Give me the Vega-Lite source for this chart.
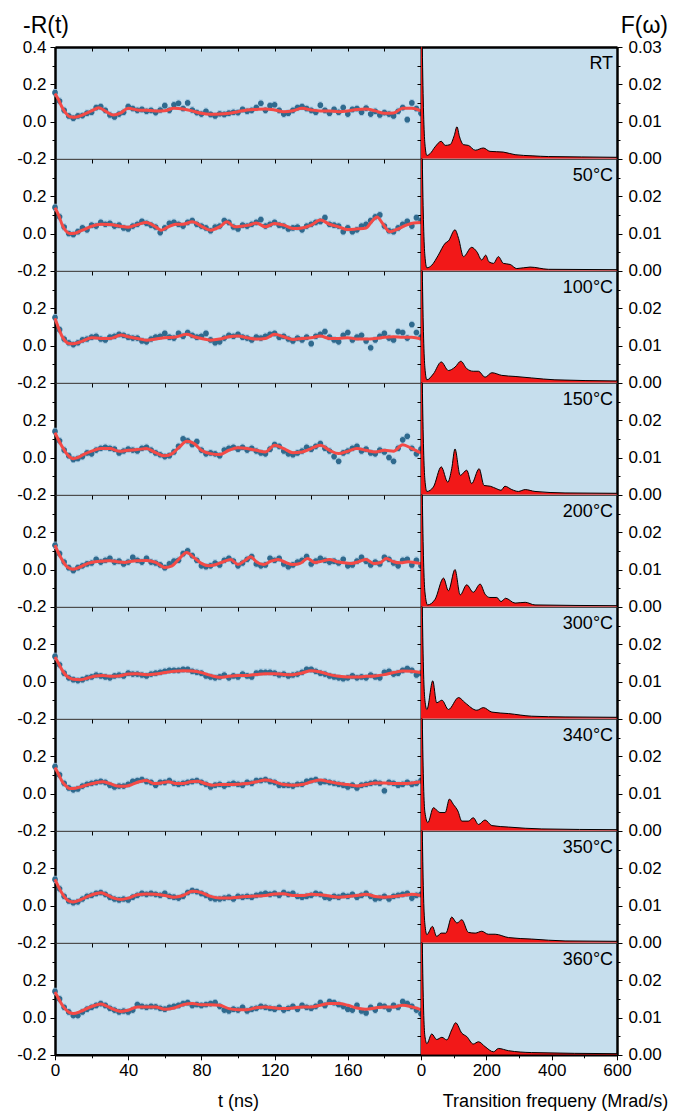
{
"$schema":"https://vega.github.io/schema/vega-lite/v6.json",
"padding":{"left":16,"top":14,"right":10,"bottom":10},
"background":"white",
"bounds":"flush",
"align":"each",
"columns":2,
"spacing":0,
"config":{
"font":"Liberation Sans",
"view":{"stroke":"#4d4d4d","strokeWidth":1,"fill":"#c6deed"},
"axis":{"labelFont":"Liberation Sans","labelFontSize":17,"labelColor":"#000","labelFlush":false,"labelOverlap":false,"titleFont":"Liberation Sans","titleFontSize":18,"titleFontWeight":"normal","titleColor":"#000","domainColor":"#000","tickColor":"#000","tickWidth":1,"grid":false,"labelPadding":4},
"title":{"font":"Liberation Sans","fontSize":23,"fontWeight":"normal","color":"#000"},
"circle":{"size":32,"color":"#2f6a8e","opacity":1},
"point":{"shape":"M0,-1L0,1M-0.6,-1L0.6,-1M-0.6,1L0.6,1","size":40,"filled":false,"color":"#9cc0da","strokeWidth":1,"opacity":1},
"area":{"color":"#f21818","interpolate":"monotone","opacity":1},
"text":{"align":"right","baseline":"middle","fontSize":18,"font":"Liberation Sans","color":"#000"}
},
"datasets":{
"p0":[{"t":0,"v":0.155},{"t":2.5,"v":0.11},{"t":5,"v":0.06},{"t":7.5,"v":0.03},{"t":10,"v":0.018},{"t":12.5,"v":0.03},{"t":15,"v":0.032},{"t":17.5,"v":0.045},{"t":20,"v":0.05},{"t":22.5,"v":0.075},{"t":25,"v":0.08},{"t":27.5,"v":0.06},{"t":30,"v":0.035},{"t":32.5,"v":0.025},{"t":35,"v":0.04},{"t":37.5,"v":0.05},{"t":40,"v":0.08},{"t":42.5,"v":0.07},{"t":45,"v":0.06},{"t":47.5,"v":0.065},{"t":50,"v":0.055},{"t":52.5,"v":0.06},{"t":55,"v":0.048},{"t":57.5,"v":0.062},{"t":60,"v":0.085},{"t":62.5,"v":0.06},{"t":65,"v":0.09},{"t":67.5,"v":0.098},{"t":70,"v":0.07},{"t":72.5,"v":0.1},{"t":75,"v":0.062},{"t":77.5,"v":0.048},{"t":80,"v":0.04},{"t":82.5,"v":0.055},{"t":85,"v":0.038},{"t":87.5,"v":0.03},{"t":90,"v":0.042},{"t":92.5,"v":0.038},{"t":95,"v":0.045},{"t":97.5,"v":0.05},{"t":100,"v":0.048},{"t":102.5,"v":0.065},{"t":105,"v":0.055},{"t":107.5,"v":0.06},{"t":110,"v":0.075},{"t":112.5,"v":0.098},{"t":115,"v":0.06},{"t":117.5,"v":0.085},{"t":120,"v":0.09},{"t":122.5,"v":0.06},{"t":125,"v":0.04},{"t":127.5,"v":0.045},{"t":130,"v":0.06},{"t":132.5,"v":0.075},{"t":135,"v":0.08},{"t":137.5,"v":0.07},{"t":140,"v":0.06},{"t":142.5,"v":0.05},{"t":145,"v":0.088},{"t":147.5,"v":0.06},{"t":150,"v":0.045},{"t":152.5,"v":0.065},{"t":155,"v":0.05},{"t":157.5,"v":0.075},{"t":160,"v":0.04},{"t":162.5,"v":0.065},{"t":165,"v":0.07},{"t":167.5,"v":0.05},{"t":170,"v":0.072},{"t":172.5,"v":0.04},{"t":175,"v":0.055},{"t":177.5,"v":0.035},{"t":180,"v":0.048},{"t":182.5,"v":0.04},{"t":185,"v":0.03},{"t":187.5,"v":0.055},{"t":190,"v":0.075},{"t":192.5,"v":0.01},{"t":195,"v":0.1},{"t":197.5,"v":0.07},{"t":200,"v":0.045}],
"p1":[{"t":0,"v":0.14},{"t":2.5,"v":0.09},{"t":5,"v":0.035},{"t":7.5,"v":0.0},{"t":10,"v":-0.005},{"t":12.5,"v":0.01},{"t":15,"v":0.03},{"t":17.5,"v":0.02},{"t":20,"v":0.045},{"t":22.5,"v":0.04},{"t":25,"v":0.06},{"t":27.5,"v":0.05},{"t":30,"v":0.055},{"t":32.5,"v":0.04},{"t":35,"v":0.045},{"t":37.5,"v":0.03},{"t":40,"v":0.025},{"t":42.5,"v":0.04},{"t":45,"v":0.05},{"t":47.5,"v":0.065},{"t":50,"v":0.055},{"t":52.5,"v":0.045},{"t":55,"v":0.035},{"t":57.5,"v":0.005},{"t":60,"v":0.03},{"t":62.5,"v":0.055},{"t":65,"v":0.06},{"t":67.5,"v":0.05},{"t":70,"v":0.04},{"t":72.5,"v":0.06},{"t":75,"v":0.07},{"t":77.5,"v":0.05},{"t":80,"v":0.04},{"t":82.5,"v":0.03},{"t":85,"v":0.015},{"t":87.5,"v":0.035},{"t":90,"v":0.04},{"t":92.5,"v":0.07},{"t":95,"v":0.06},{"t":97.5,"v":0.035},{"t":100,"v":0.025},{"t":102.5,"v":0.045},{"t":105,"v":0.04},{"t":107.5,"v":0.05},{"t":110,"v":0.06},{"t":112.5,"v":0.075},{"t":115,"v":0.04},{"t":117.5,"v":0.05},{"t":120,"v":0.06},{"t":122.5,"v":0.045},{"t":125,"v":0.04},{"t":127.5,"v":0.025},{"t":130,"v":0.03},{"t":132.5,"v":0.035},{"t":135,"v":0.02},{"t":137.5,"v":0.04},{"t":140,"v":0.05},{"t":142.5,"v":0.06},{"t":145,"v":0.065},{"t":147.5,"v":0.085},{"t":150,"v":0.05},{"t":152.5,"v":0.045},{"t":155,"v":0.04},{"t":157.5,"v":0.01},{"t":160,"v":0.03},{"t":162.5,"v":0.01},{"t":165,"v":0.02},{"t":167.5,"v":0.04},{"t":170,"v":0.05},{"t":172.5,"v":0.07},{"t":175,"v":0.09},{"t":177.5,"v":0.1},{"t":180,"v":0.04},{"t":182.5,"v":0.015},{"t":185,"v":0.01},{"t":187.5,"v":0.03},{"t":190,"v":0.05},{"t":192.5,"v":0.065},{"t":195,"v":0.04},{"t":197.5,"v":0.085},{"t":200,"v":0.07}],
"p2":[{"t":0,"v":0.15},{"t":2.5,"v":0.085},{"t":5,"v":0.035},{"t":7.5,"v":0.015},{"t":10,"v":0.005},{"t":12.5,"v":0.015},{"t":15,"v":0.03},{"t":17.5,"v":0.035},{"t":20,"v":0.045},{"t":22.5,"v":0.05},{"t":25,"v":0.035},{"t":27.5,"v":0.03},{"t":30,"v":0.045},{"t":32.5,"v":0.05},{"t":35,"v":0.06},{"t":37.5,"v":0.055},{"t":40,"v":0.045},{"t":42.5,"v":0.04},{"t":45,"v":0.04},{"t":47.5,"v":0.025},{"t":50,"v":0.02},{"t":52.5,"v":0.035},{"t":55,"v":0.045},{"t":57.5,"v":0.05},{"t":60,"v":0.065},{"t":62.5,"v":0.045},{"t":65,"v":0.04},{"t":67.5,"v":0.065},{"t":70,"v":0.05},{"t":72.5,"v":0.07},{"t":75,"v":0.055},{"t":77.5,"v":0.045},{"t":80,"v":0.05},{"t":82.5,"v":0.065},{"t":85,"v":0.03},{"t":87.5,"v":0.015},{"t":90,"v":0.02},{"t":92.5,"v":0.04},{"t":95,"v":0.055},{"t":97.5,"v":0.05},{"t":100,"v":0.06},{"t":102.5,"v":0.045},{"t":105,"v":0.04},{"t":107.5,"v":0.03},{"t":110,"v":0.045},{"t":112.5,"v":0.04},{"t":115,"v":0.05},{"t":117.5,"v":0.06},{"t":120,"v":0.065},{"t":122.5,"v":0.045},{"t":125,"v":0.05},{"t":127.5,"v":0.035},{"t":130,"v":0.025},{"t":132.5,"v":0.04},{"t":135,"v":0.03},{"t":137.5,"v":0.045},{"t":140,"v":0.01},{"t":142.5,"v":0.05},{"t":145,"v":0.06},{"t":147.5,"v":0.075},{"t":150,"v":0.045},{"t":152.5,"v":0.03},{"t":155,"v":0.02},{"t":157.5,"v":0.055},{"t":160,"v":0.07},{"t":162.5,"v":0.03},{"t":165,"v":0.045},{"t":167.5,"v":0.055},{"t":170,"v":0.025},{"t":172.5,"v":-0.012},{"t":175,"v":0.03},{"t":177.5,"v":0.05},{"t":180,"v":0.065},{"t":182.5,"v":0.04},{"t":185,"v":0.03},{"t":187.5,"v":0.075},{"t":190,"v":0.07},{"t":192.5,"v":0.04},{"t":195,"v":0.113},{"t":197.5,"v":0.07},{"t":200,"v":0.045}],
"p3":[{"t":0,"v":0.14},{"t":2.5,"v":0.09},{"t":5,"v":0.04},{"t":7.5,"v":0.01},{"t":10,"v":-0.01},{"t":12.5,"v":-0.005},{"t":15,"v":0.005},{"t":17.5,"v":0.025},{"t":20,"v":0.02},{"t":22.5,"v":0.04},{"t":25,"v":0.05},{"t":27.5,"v":0.055},{"t":30,"v":0.05},{"t":32.5,"v":0.045},{"t":35,"v":0.025},{"t":37.5,"v":0.035},{"t":40,"v":0.045},{"t":42.5,"v":0.04},{"t":45,"v":0.035},{"t":47.5,"v":0.05},{"t":50,"v":0.055},{"t":52.5,"v":0.04},{"t":55,"v":0.025},{"t":57.5,"v":0.015},{"t":60,"v":0.005},{"t":62.5,"v":0.01},{"t":65,"v":0.03},{"t":67.5,"v":0.06},{"t":70,"v":0.1},{"t":72.5,"v":0.09},{"t":75,"v":0.07},{"t":77.5,"v":0.085},{"t":80,"v":0.04},{"t":82.5,"v":0.02},{"t":85,"v":0.025},{"t":87.5,"v":0.02},{"t":90,"v":0.01},{"t":92.5,"v":0.04},{"t":95,"v":0.05},{"t":97.5,"v":0.055},{"t":100,"v":0.045},{"t":102.5,"v":0.055},{"t":105,"v":0.04},{"t":107.5,"v":0.05},{"t":110,"v":0.035},{"t":112.5,"v":0.025},{"t":115,"v":0.02},{"t":117.5,"v":0.045},{"t":120,"v":0.07},{"t":122.5,"v":0.06},{"t":125,"v":0.035},{"t":127.5,"v":0.02},{"t":130,"v":0.015},{"t":132.5,"v":0.025},{"t":135,"v":0.035},{"t":137.5,"v":0.055},{"t":140,"v":0.045},{"t":142.5,"v":0.06},{"t":145,"v":0.075},{"t":147.5,"v":0.05},{"t":150,"v":0.035},{"t":152.5,"v":0.005},{"t":155,"v":-0.02},{"t":157.5,"v":0.025},{"t":160,"v":0.035},{"t":162.5,"v":0.05},{"t":165,"v":0.06},{"t":167.5,"v":0.035},{"t":170,"v":0.045},{"t":172.5,"v":0.025},{"t":175,"v":0.02},{"t":177.5,"v":0.04},{"t":180,"v":0.03},{"t":182.5,"v":0.0},{"t":185,"v":-0.02},{"t":187.5,"v":0.05},{"t":190,"v":0.095},{"t":192.5,"v":0.114},{"t":195,"v":0.05},{"t":197.5,"v":0.02},{"t":200,"v":0.045}],
"p4":[{"t":0,"v":0.13},{"t":2.5,"v":0.085},{"t":5,"v":0.04},{"t":7.5,"v":0.01},{"t":10,"v":-0.005},{"t":12.5,"v":0.01},{"t":15,"v":0.02},{"t":17.5,"v":0.03},{"t":20,"v":0.035},{"t":22.5,"v":0.055},{"t":25,"v":0.04},{"t":27.5,"v":0.05},{"t":30,"v":0.06},{"t":32.5,"v":0.04},{"t":35,"v":0.045},{"t":37.5,"v":0.03},{"t":40,"v":0.04},{"t":42.5,"v":0.065},{"t":45,"v":0.05},{"t":47.5,"v":0.04},{"t":50,"v":0.06},{"t":52.5,"v":0.04},{"t":55,"v":0.035},{"t":57.5,"v":0.025},{"t":60,"v":0.01},{"t":62.5,"v":0.03},{"t":65,"v":0.045},{"t":67.5,"v":0.05},{"t":70,"v":0.085},{"t":72.5,"v":0.1},{"t":75,"v":0.075},{"t":77.5,"v":0.05},{"t":80,"v":0.02},{"t":82.5,"v":0.015},{"t":85,"v":0.02},{"t":87.5,"v":0.035},{"t":90,"v":0.025},{"t":92.5,"v":0.05},{"t":95,"v":0.06},{"t":97.5,"v":0.045},{"t":100,"v":0.02},{"t":102.5,"v":0.035},{"t":105,"v":0.055},{"t":107.5,"v":0.07},{"t":110,"v":0.03},{"t":112.5,"v":0.02},{"t":115,"v":0.025},{"t":117.5,"v":0.06},{"t":120,"v":0.05},{"t":122.5,"v":0.06},{"t":125,"v":0.03},{"t":127.5,"v":0.015},{"t":130,"v":0.025},{"t":132.5,"v":0.04},{"t":135,"v":0.05},{"t":137.5,"v":0.07},{"t":140,"v":0.03},{"t":142.5,"v":0.045},{"t":145,"v":0.06},{"t":147.5,"v":0.05},{"t":150,"v":0.04},{"t":152.5,"v":0.045},{"t":155,"v":0.035},{"t":157.5,"v":0.055},{"t":160,"v":0.02},{"t":162.5,"v":0.025},{"t":165,"v":0.045},{"t":167.5,"v":0.065},{"t":170,"v":0.045},{"t":172.5,"v":0.025},{"t":175,"v":0.04},{"t":177.5,"v":0.03},{"t":180,"v":0.065},{"t":182.5,"v":0.055},{"t":185,"v":0.035},{"t":187.5,"v":0.02},{"t":190,"v":0.05},{"t":192.5,"v":0.055},{"t":195,"v":0.025},{"t":197.5,"v":0.05},{"t":200,"v":0.02}],
"p5":[{"t":0,"v":0.135},{"t":2.5,"v":0.09},{"t":5,"v":0.045},{"t":7.5,"v":0.02},{"t":10,"v":0.01},{"t":12.5,"v":0.005},{"t":15,"v":0.01},{"t":17.5,"v":0.02},{"t":20,"v":0.025},{"t":22.5,"v":0.035},{"t":25,"v":0.03},{"t":27.5,"v":0.025},{"t":30,"v":0.02},{"t":32.5,"v":0.03},{"t":35,"v":0.035},{"t":37.5,"v":0.03},{"t":40,"v":0.045},{"t":42.5,"v":0.04},{"t":45,"v":0.04},{"t":47.5,"v":0.035},{"t":50,"v":0.03},{"t":52.5,"v":0.04},{"t":55,"v":0.045},{"t":57.5,"v":0.05},{"t":60,"v":0.055},{"t":62.5,"v":0.06},{"t":65,"v":0.06},{"t":67.5,"v":0.06},{"t":70,"v":0.065},{"t":72.5,"v":0.065},{"t":75,"v":0.055},{"t":77.5,"v":0.05},{"t":80,"v":0.045},{"t":82.5,"v":0.03},{"t":85,"v":0.025},{"t":87.5,"v":0.02},{"t":90,"v":0.025},{"t":92.5,"v":0.035},{"t":95,"v":0.02},{"t":97.5,"v":0.03},{"t":100,"v":0.025},{"t":102.5,"v":0.04},{"t":105,"v":0.03},{"t":107.5,"v":0.025},{"t":110,"v":0.045},{"t":112.5,"v":0.05},{"t":115,"v":0.05},{"t":117.5,"v":0.05},{"t":120,"v":0.045},{"t":122.5,"v":0.035},{"t":125,"v":0.04},{"t":127.5,"v":0.03},{"t":130,"v":0.035},{"t":132.5,"v":0.04},{"t":135,"v":0.05},{"t":137.5,"v":0.065},{"t":140,"v":0.065},{"t":142.5,"v":0.055},{"t":145,"v":0.045},{"t":147.5,"v":0.04},{"t":150,"v":0.03},{"t":152.5,"v":0.025},{"t":155,"v":0.02},{"t":157.5,"v":0.015},{"t":160,"v":0.02},{"t":162.5,"v":0.03},{"t":165,"v":0.02},{"t":167.5,"v":0.025},{"t":170,"v":0.02},{"t":172.5,"v":0.035},{"t":175,"v":0.025},{"t":177.5,"v":0.02},{"t":180,"v":0.05},{"t":182.5,"v":0.055},{"t":185,"v":0.04},{"t":187.5,"v":0.045},{"t":190,"v":0.06},{"t":192.5,"v":0.07},{"t":195,"v":0.06},{"t":197.5,"v":0.035},{"t":200,"v":0.045}],
"p6":[{"t":0,"v":0.145},{"t":2.5,"v":0.1},{"t":5,"v":0.055},{"t":7.5,"v":0.03},{"t":10,"v":0.02},{"t":12.5,"v":0.025},{"t":15,"v":0.04},{"t":17.5,"v":0.05},{"t":20,"v":0.055},{"t":22.5,"v":0.06},{"t":25,"v":0.065},{"t":27.5,"v":0.06},{"t":30,"v":0.045},{"t":32.5,"v":0.035},{"t":35,"v":0.04},{"t":37.5,"v":0.04},{"t":40,"v":0.05},{"t":42.5,"v":0.065},{"t":45,"v":0.07},{"t":47.5,"v":0.075},{"t":50,"v":0.065},{"t":52.5,"v":0.06},{"t":55,"v":0.045},{"t":57.5,"v":0.06},{"t":60,"v":0.06},{"t":62.5,"v":0.07},{"t":65,"v":0.055},{"t":67.5,"v":0.05},{"t":70,"v":0.055},{"t":72.5,"v":0.06},{"t":75,"v":0.065},{"t":77.5,"v":0.07},{"t":80,"v":0.06},{"t":82.5,"v":0.05},{"t":85,"v":0.035},{"t":87.5,"v":0.045},{"t":90,"v":0.05},{"t":92.5,"v":0.04},{"t":95,"v":0.05},{"t":97.5,"v":0.055},{"t":100,"v":0.05},{"t":102.5,"v":0.045},{"t":105,"v":0.06},{"t":107.5,"v":0.055},{"t":110,"v":0.07},{"t":112.5,"v":0.07},{"t":115,"v":0.075},{"t":117.5,"v":0.065},{"t":120,"v":0.06},{"t":122.5,"v":0.045},{"t":125,"v":0.045},{"t":127.5,"v":0.045},{"t":130,"v":0.04},{"t":132.5,"v":0.05},{"t":135,"v":0.05},{"t":137.5,"v":0.065},{"t":140,"v":0.07},{"t":142.5,"v":0.075},{"t":145,"v":0.06},{"t":147.5,"v":0.065},{"t":150,"v":0.06},{"t":152.5,"v":0.055},{"t":155,"v":0.05},{"t":157.5,"v":0.045},{"t":160,"v":0.035},{"t":162.5,"v":0.045},{"t":165,"v":0.03},{"t":167.5,"v":0.045},{"t":170,"v":0.05},{"t":172.5,"v":0.055},{"t":175,"v":0.06},{"t":177.5,"v":0.055},{"t":180,"v":0.015},{"t":182.5,"v":0.06},{"t":185,"v":0.055},{"t":187.5,"v":0.045},{"t":190,"v":0.05},{"t":192.5,"v":0.06},{"t":195,"v":0.05},{"t":197.5,"v":0.055},{"t":200,"v":0.07}],
"p7":[{"t":0,"v":0.14},{"t":2.5,"v":0.09},{"t":5,"v":0.05},{"t":7.5,"v":0.025},{"t":10,"v":0.015},{"t":12.5,"v":0.02},{"t":15,"v":0.035},{"t":17.5,"v":0.05},{"t":20,"v":0.055},{"t":22.5,"v":0.065},{"t":25,"v":0.07},{"t":27.5,"v":0.06},{"t":30,"v":0.045},{"t":32.5,"v":0.035},{"t":35,"v":0.03},{"t":37.5,"v":0.035},{"t":40,"v":0.03},{"t":42.5,"v":0.045},{"t":45,"v":0.055},{"t":47.5,"v":0.065},{"t":50,"v":0.06},{"t":52.5,"v":0.065},{"t":55,"v":0.06},{"t":57.5,"v":0.055},{"t":60,"v":0.065},{"t":62.5,"v":0.05},{"t":65,"v":0.045},{"t":67.5,"v":0.04},{"t":70,"v":0.05},{"t":72.5,"v":0.07},{"t":75,"v":0.08},{"t":77.5,"v":0.075},{"t":80,"v":0.065},{"t":82.5,"v":0.055},{"t":85,"v":0.04},{"t":87.5,"v":0.035},{"t":90,"v":0.035},{"t":92.5,"v":0.04},{"t":95,"v":0.045},{"t":97.5,"v":0.035},{"t":100,"v":0.05},{"t":102.5,"v":0.045},{"t":105,"v":0.05},{"t":107.5,"v":0.045},{"t":110,"v":0.055},{"t":112.5,"v":0.06},{"t":115,"v":0.065},{"t":117.5,"v":0.06},{"t":120,"v":0.065},{"t":122.5,"v":0.055},{"t":125,"v":0.07},{"t":127.5,"v":0.06},{"t":130,"v":0.065},{"t":132.5,"v":0.05},{"t":135,"v":0.045},{"t":137.5,"v":0.05},{"t":140,"v":0.055},{"t":142.5,"v":0.065},{"t":145,"v":0.06},{"t":147.5,"v":0.045},{"t":150,"v":0.04},{"t":152.5,"v":0.05},{"t":155,"v":0.045},{"t":157.5,"v":0.055},{"t":160,"v":0.05},{"t":162.5,"v":0.06},{"t":165,"v":0.045},{"t":167.5,"v":0.055},{"t":170,"v":0.065},{"t":172.5,"v":0.05},{"t":175,"v":0.035},{"t":177.5,"v":0.04},{"t":180,"v":0.05},{"t":182.5,"v":0.035},{"t":185,"v":0.05},{"t":187.5,"v":0.055},{"t":190,"v":0.06},{"t":192.5,"v":0.065},{"t":195,"v":0.04},{"t":197.5,"v":0.055},{"t":200,"v":0.06}],
"p8":[{"t":0,"v":0.14},{"t":2.5,"v":0.1},{"t":5,"v":0.055},{"t":7.5,"v":0.03},{"t":10,"v":0.01},{"t":12.5,"v":0.01},{"t":15,"v":0.03},{"t":17.5,"v":0.045},{"t":20,"v":0.055},{"t":22.5,"v":0.065},{"t":25,"v":0.075},{"t":27.5,"v":0.065},{"t":30,"v":0.05},{"t":32.5,"v":0.04},{"t":35,"v":0.03},{"t":37.5,"v":0.035},{"t":40,"v":0.03},{"t":42.5,"v":0.04},{"t":45,"v":0.07},{"t":47.5,"v":0.06},{"t":50,"v":0.055},{"t":52.5,"v":0.06},{"t":55,"v":0.058},{"t":57.5,"v":0.05},{"t":60,"v":0.045},{"t":62.5,"v":0.055},{"t":65,"v":0.06},{"t":67.5,"v":0.065},{"t":70,"v":0.075},{"t":72.5,"v":0.08},{"t":75,"v":0.065},{"t":77.5,"v":0.07},{"t":80,"v":0.065},{"t":82.5,"v":0.07},{"t":85,"v":0.075},{"t":87.5,"v":0.08},{"t":90,"v":0.06},{"t":92.5,"v":0.04},{"t":95,"v":0.035},{"t":97.5,"v":0.045},{"t":100,"v":0.04},{"t":102.5,"v":0.055},{"t":105,"v":0.035},{"t":107.5,"v":0.045},{"t":110,"v":0.05},{"t":112.5,"v":0.06},{"t":115,"v":0.055},{"t":117.5,"v":0.05},{"t":120,"v":0.045},{"t":122.5,"v":0.055},{"t":125,"v":0.04},{"t":127.5,"v":0.05},{"t":130,"v":0.06},{"t":132.5,"v":0.045},{"t":135,"v":0.065},{"t":137.5,"v":0.055},{"t":140,"v":0.05},{"t":142.5,"v":0.06},{"t":145,"v":0.08},{"t":147.5,"v":0.065},{"t":150,"v":0.085},{"t":152.5,"v":0.08},{"t":155,"v":0.07},{"t":157.5,"v":0.06},{"t":160,"v":0.045},{"t":162.5,"v":0.04},{"t":165,"v":0.065},{"t":167.5,"v":0.035},{"t":170,"v":0.025},{"t":172.5,"v":0.055},{"t":175,"v":0.04},{"t":177.5,"v":0.065},{"t":180,"v":0.06},{"t":182.5,"v":0.045},{"t":185,"v":0.065},{"t":187.5,"v":0.055},{"t":190,"v":0.085},{"t":192.5,"v":0.075},{"t":195,"v":0.06},{"t":197.5,"v":0.04},{"t":200,"v":0.02}],
"f0":[{"t":0,"v":0.151},{"t":2,"v":0.116},{"t":4,"v":0.074},{"t":6,"v":0.044},{"t":8,"v":0.026},{"t":10,"v":0.023},{"t":15,"v":0.035},{"t":20,"v":0.057},{"t":24,"v":0.074},{"t":28,"v":0.053},{"t":32,"v":0.035},{"t":36,"v":0.047},{"t":40,"v":0.071},{"t":45,"v":0.062},{"t":50,"v":0.06},{"t":55,"v":0.057},{"t":60,"v":0.058},{"t":65,"v":0.071},{"t":70,"v":0.067},{"t":75,"v":0.057},{"t":80,"v":0.044},{"t":85,"v":0.039},{"t":90,"v":0.04},{"t":95,"v":0.044},{"t":100,"v":0.053},{"t":105,"v":0.062},{"t":110,"v":0.065},{"t":115,"v":0.067},{"t":120,"v":0.062},{"t":125,"v":0.053},{"t":130,"v":0.058},{"t":135,"v":0.071},{"t":140,"v":0.062},{"t":145,"v":0.057},{"t":150,"v":0.057},{"t":155,"v":0.053},{"t":160,"v":0.057},{"t":165,"v":0.065},{"t":170,"v":0.067},{"t":175,"v":0.057},{"t":180,"v":0.044},{"t":185,"v":0.046},{"t":190,"v":0.071},{"t":195,"v":0.071},{"t":200,"v":0.057}],
"f1":[{"t":0,"v":0.138},{"t":2,"v":0.098},{"t":4,"v":0.045},{"t":6,"v":0.013},{"t":8,"v":0.0},{"t":10,"v":0.0},{"t":15,"v":0.018},{"t":20,"v":0.039},{"t":25,"v":0.05},{"t":30,"v":0.048},{"t":35,"v":0.041},{"t":40,"v":0.034},{"t":45,"v":0.048},{"t":50,"v":0.059},{"t":55,"v":0.036},{"t":58,"v":0.018},{"t":62,"v":0.036},{"t":66,"v":0.05},{"t":70,"v":0.05},{"t":75,"v":0.063},{"t":80,"v":0.039},{"t":85,"v":0.018},{"t":90,"v":0.036},{"t":94,"v":0.063},{"t":98,"v":0.036},{"t":102,"v":0.039},{"t":106,"v":0.045},{"t":110,"v":0.057},{"t":115,"v":0.036},{"t":120,"v":0.054},{"t":125,"v":0.045},{"t":130,"v":0.027},{"t":135,"v":0.03},{"t":140,"v":0.045},{"t":145,"v":0.072},{"t":150,"v":0.05},{"t":155,"v":0.036},{"t":160,"v":0.021},{"t":165,"v":0.025},{"t":170,"v":0.03},{"t":173,"v":0.063},{"t":176,"v":0.089},{"t":179,"v":0.054},{"t":183,"v":0.009},{"t":187,"v":0.023},{"t":192,"v":0.045},{"t":196,"v":0.057},{"t":200,"v":0.059}],
"f2":[{"t":0,"v":0.146},{"t":2,"v":0.092},{"t":4,"v":0.047},{"t":6,"v":0.02},{"t":8,"v":0.011},{"t":10,"v":0.01},{"t":15,"v":0.024},{"t":20,"v":0.042},{"t":25,"v":0.038},{"t":30,"v":0.038},{"t":36,"v":0.056},{"t":40,"v":0.047},{"t":45,"v":0.038},{"t":50,"v":0.029},{"t":55,"v":0.035},{"t":60,"v":0.042},{"t":65,"v":0.044},{"t":72,"v":0.06},{"t":76,"v":0.047},{"t":80,"v":0.038},{"t":85,"v":0.029},{"t":90,"v":0.035},{"t":95,"v":0.047},{"t":100,"v":0.051},{"t":105,"v":0.042},{"t":110,"v":0.035},{"t":115,"v":0.038},{"t":120,"v":0.06},{"t":125,"v":0.047},{"t":130,"v":0.033},{"t":135,"v":0.038},{"t":140,"v":0.042},{"t":145,"v":0.051},{"t":150,"v":0.038},{"t":155,"v":0.038},{"t":160,"v":0.042},{"t":165,"v":0.035},{"t":170,"v":0.035},{"t":175,"v":0.038},{"t":180,"v":0.044},{"t":185,"v":0.047},{"t":190,"v":0.044},{"t":195,"v":0.044},{"t":200,"v":0.035}],
"f3":[{"t":0,"v":0.134},{"t":2,"v":0.093},{"t":4,"v":0.057},{"t":6,"v":0.025},{"t":8,"v":0.003},{"t":10,"v":-0.006},{"t":12,"v":-0.002},{"t":16,"v":0.018},{"t":20,"v":0.034},{"t":25,"v":0.048},{"t":30,"v":0.048},{"t":35,"v":0.034},{"t":40,"v":0.039},{"t":45,"v":0.043},{"t":50,"v":0.048},{"t":55,"v":0.026},{"t":60,"v":0.009},{"t":64,"v":0.021},{"t":68,"v":0.057},{"t":72,"v":0.087},{"t":76,"v":0.075},{"t":80,"v":0.039},{"t":85,"v":0.021},{"t":90,"v":0.016},{"t":95,"v":0.039},{"t":100,"v":0.052},{"t":105,"v":0.048},{"t":110,"v":0.039},{"t":115,"v":0.03},{"t":120,"v":0.066},{"t":125,"v":0.048},{"t":130,"v":0.026},{"t":135,"v":0.03},{"t":140,"v":0.048},{"t":145,"v":0.066},{"t":150,"v":0.039},{"t":155,"v":0.021},{"t":160,"v":0.034},{"t":165,"v":0.048},{"t":170,"v":0.039},{"t":175,"v":0.03},{"t":180,"v":0.039},{"t":185,"v":0.034},{"t":190,"v":0.069},{"t":195,"v":0.048},{"t":200,"v":0.025}],
"f4":[{"t":0,"v":0.131},{"t":2,"v":0.086},{"t":4,"v":0.05},{"t":6,"v":0.02},{"t":8,"v":0.006},{"t":10,"v":0.002},{"t":14,"v":0.015},{"t":18,"v":0.033},{"t":22,"v":0.042},{"t":26,"v":0.045},{"t":30,"v":0.047},{"t":34,"v":0.042},{"t":38,"v":0.038},{"t":42,"v":0.045},{"t":46,"v":0.047},{"t":50,"v":0.049},{"t":55,"v":0.038},{"t":60,"v":0.011},{"t":64,"v":0.02},{"t":68,"v":0.059},{"t":72,"v":0.091},{"t":76,"v":0.063},{"t":80,"v":0.033},{"t":84,"v":0.02},{"t":88,"v":0.027},{"t":92,"v":0.042},{"t":96,"v":0.054},{"t":100,"v":0.027},{"t":104,"v":0.05},{"t":107,"v":0.068},{"t":110,"v":0.042},{"t":114,"v":0.027},{"t":118,"v":0.045},{"t":122,"v":0.054},{"t":126,"v":0.038},{"t":130,"v":0.027},{"t":134,"v":0.033},{"t":138,"v":0.059},{"t":142,"v":0.038},{"t":146,"v":0.045},{"t":150,"v":0.054},{"t":154,"v":0.042},{"t":158,"v":0.036},{"t":162,"v":0.033},{"t":166,"v":0.042},{"t":170,"v":0.054},{"t":174,"v":0.033},{"t":178,"v":0.038},{"t":181,"v":0.059},{"t":185,"v":0.042},{"t":189,"v":0.036},{"t":193,"v":0.042},{"t":197,"v":0.036},{"t":200,"v":0.033}],
"f5":[{"t":0,"v":0.132},{"t":2,"v":0.096},{"t":4,"v":0.06},{"t":6,"v":0.033},{"t":8,"v":0.019},{"t":10,"v":0.012},{"t":14,"v":0.01},{"t":18,"v":0.019},{"t":22,"v":0.03},{"t":26,"v":0.033},{"t":30,"v":0.028},{"t":35,"v":0.03},{"t":40,"v":0.04},{"t":45,"v":0.042},{"t":50,"v":0.037},{"t":55,"v":0.04},{"t":60,"v":0.048},{"t":65,"v":0.055},{"t":70,"v":0.058},{"t":75,"v":0.056},{"t":80,"v":0.048},{"t":85,"v":0.033},{"t":90,"v":0.023},{"t":95,"v":0.028},{"t":100,"v":0.033},{"t":105,"v":0.033},{"t":110,"v":0.038},{"t":115,"v":0.042},{"t":120,"v":0.042},{"t":125,"v":0.038},{"t":130,"v":0.037},{"t":135,"v":0.046},{"t":140,"v":0.058},{"t":145,"v":0.051},{"t":150,"v":0.037},{"t":155,"v":0.028},{"t":160,"v":0.024},{"t":165,"v":0.024},{"t":170,"v":0.028},{"t":175,"v":0.03},{"t":180,"v":0.037},{"t":185,"v":0.048},{"t":190,"v":0.056},{"t":195,"v":0.055},{"t":200,"v":0.048}],
"f6":[{"t":0,"v":0.14},{"t":2,"v":0.102},{"t":4,"v":0.063},{"t":6,"v":0.041},{"t":8,"v":0.027},{"t":10,"v":0.027},{"t":14,"v":0.036},{"t":18,"v":0.048},{"t":22,"v":0.057},{"t":26,"v":0.063},{"t":30,"v":0.054},{"t":34,"v":0.041},{"t":38,"v":0.039},{"t":42,"v":0.048},{"t":46,"v":0.063},{"t":50,"v":0.07},{"t":54,"v":0.054},{"t":58,"v":0.057},{"t":62,"v":0.063},{"t":66,"v":0.054},{"t":70,"v":0.054},{"t":74,"v":0.063},{"t":78,"v":0.066},{"t":82,"v":0.054},{"t":86,"v":0.045},{"t":90,"v":0.048},{"t":95,"v":0.048},{"t":100,"v":0.05},{"t":105,"v":0.054},{"t":110,"v":0.063},{"t":115,"v":0.072},{"t":120,"v":0.063},{"t":125,"v":0.048},{"t":130,"v":0.045},{"t":135,"v":0.048},{"t":140,"v":0.063},{"t":145,"v":0.072},{"t":150,"v":0.063},{"t":155,"v":0.054},{"t":160,"v":0.048},{"t":165,"v":0.041},{"t":170,"v":0.048},{"t":175,"v":0.057},{"t":180,"v":0.057},{"t":185,"v":0.054},{"t":190,"v":0.054},{"t":195,"v":0.057},{"t":200,"v":0.063}],
"f7":[{"t":0,"v":0.14},{"t":2,"v":0.099},{"t":4,"v":0.063},{"t":6,"v":0.036},{"t":8,"v":0.022},{"t":10,"v":0.019},{"t":14,"v":0.031},{"t":18,"v":0.049},{"t":22,"v":0.063},{"t":25,"v":0.069},{"t":28,"v":0.058},{"t":32,"v":0.04},{"t":36,"v":0.033},{"t":40,"v":0.04},{"t":45,"v":0.058},{"t":50,"v":0.062},{"t":55,"v":0.06},{"t":60,"v":0.054},{"t":65,"v":0.045},{"t":70,"v":0.054},{"t":75,"v":0.076},{"t":80,"v":0.069},{"t":85,"v":0.049},{"t":90,"v":0.04},{"t":95,"v":0.04},{"t":100,"v":0.045},{"t":105,"v":0.049},{"t":110,"v":0.051},{"t":115,"v":0.054},{"t":120,"v":0.062},{"t":125,"v":0.063},{"t":130,"v":0.054},{"t":135,"v":0.054},{"t":140,"v":0.06},{"t":145,"v":0.058},{"t":150,"v":0.051},{"t":155,"v":0.045},{"t":160,"v":0.049},{"t":165,"v":0.054},{"t":170,"v":0.06},{"t":175,"v":0.049},{"t":180,"v":0.045},{"t":185,"v":0.049},{"t":190,"v":0.054},{"t":195,"v":0.06},{"t":200,"v":0.054}],
"f8":[{"t":0,"v":0.137},{"t":2,"v":0.101},{"t":4,"v":0.066},{"t":6,"v":0.042},{"t":8,"v":0.026},{"t":10,"v":0.021},{"t":14,"v":0.033},{"t":18,"v":0.051},{"t":22,"v":0.066},{"t":25,"v":0.073},{"t":28,"v":0.062},{"t":32,"v":0.044},{"t":36,"v":0.033},{"t":40,"v":0.039},{"t":45,"v":0.057},{"t":50,"v":0.057},{"t":55,"v":0.057},{"t":60,"v":0.044},{"t":65,"v":0.051},{"t":70,"v":0.069},{"t":75,"v":0.075},{"t":80,"v":0.069},{"t":85,"v":0.069},{"t":90,"v":0.066},{"t":95,"v":0.048},{"t":100,"v":0.042},{"t":105,"v":0.042},{"t":110,"v":0.053},{"t":115,"v":0.057},{"t":120,"v":0.051},{"t":125,"v":0.048},{"t":130,"v":0.051},{"t":135,"v":0.057},{"t":140,"v":0.057},{"t":145,"v":0.066},{"t":150,"v":0.075},{"t":155,"v":0.075},{"t":160,"v":0.066},{"t":165,"v":0.051},{"t":170,"v":0.044},{"t":175,"v":0.051},{"t":180,"v":0.057},{"t":185,"v":0.057},{"t":190,"v":0.066},{"t":195,"v":0.057},{"t":200,"v":0.042}],
"s0":[{"w":0,"F":0.06},{"w":4,"F":0.03},{"w":8,"F":0.012},{"w":12,"F":0.004},{"w":18,"F":0.0009},{"w":28,"F":0.0014},{"w":43,"F":0.0032},{"w":62,"F":0.0047},{"w":74,"F":0.0036},{"w":89,"F":0.0038},{"w":102,"F":0.0063},{"w":110,"F":0.0086},{"w":118,"F":0.0059},{"w":130,"F":0.0038},{"w":145,"F":0.0036},{"w":166,"F":0.0023},{"w":191,"F":0.0029},{"w":211,"F":0.002},{"w":252,"F":0.0018},{"w":288,"F":0.0011},{"w":340,"F":0.0008},{"w":390,"F":0.0006},{"w":492,"F":0.0005},{"w":600,"F":0.0004}],
"s1":[{"w":0,"F":0.06},{"w":4,"F":0.03},{"w":8,"F":0.012},{"w":12,"F":0.004},{"w":18,"F":0.0008},{"w":33,"F":0.0015},{"w":53,"F":0.0042},{"w":74,"F":0.0074},{"w":84,"F":0.008},{"w":104,"F":0.011},{"w":115,"F":0.0087},{"w":130,"F":0.0038},{"w":155,"F":0.0063},{"w":171,"F":0.0051},{"w":186,"F":0.0029},{"w":198,"F":0.0042},{"w":208,"F":0.0024},{"w":222,"F":0.002},{"w":237,"F":0.0038},{"w":252,"F":0.002},{"w":273,"F":0.0017},{"w":293,"F":0.0006},{"w":334,"F":0.001},{"w":390,"F":0.0004},{"w":600,"F":0.0003}],
"s2":[{"w":0,"F":0.06},{"w":4,"F":0.03},{"w":8,"F":0.012},{"w":12,"F":0.004},{"w":18,"F":0.0008},{"w":38,"F":0.0024},{"w":62,"F":0.0056},{"w":84,"F":0.0033},{"w":104,"F":0.0042},{"w":122,"F":0.0058},{"w":140,"F":0.0038},{"w":160,"F":0.0031},{"w":176,"F":0.0031},{"w":196,"F":0.0015},{"w":217,"F":0.0027},{"w":247,"F":0.002},{"w":288,"F":0.0017},{"w":339,"F":0.0013},{"w":410,"F":0.0008},{"w":600,"F":0.0005}],
"s3":[{"w":0,"F":0.06},{"w":4,"F":0.03},{"w":8,"F":0.012},{"w":12,"F":0.004},{"w":18,"F":0.0009},{"w":38,"F":0.0021},{"w":62,"F":0.0075},{"w":82,"F":0.0034},{"w":94,"F":0.007},{"w":104,"F":0.0123},{"w":120,"F":0.0052},{"w":140,"F":0.0066},{"w":155,"F":0.003},{"w":178,"F":0.007},{"w":193,"F":0.0025},{"w":212,"F":0.0023},{"w":232,"F":0.0016},{"w":245,"F":0.0012},{"w":257,"F":0.0023},{"w":278,"F":0.0014},{"w":298,"F":0.0009},{"w":319,"F":0.0014},{"w":349,"F":0.0009},{"w":441,"F":0.0005},{"w":600,"F":0.0004}],
"s4":[{"w":0,"F":0.06},{"w":4,"F":0.03},{"w":8,"F":0.012},{"w":12,"F":0.004},{"w":20,"F":0.0005},{"w":43,"F":0.002},{"w":69,"F":0.0077},{"w":84,"F":0.0043},{"w":104,"F":0.01},{"w":120,"F":0.0032},{"w":140,"F":0.0059},{"w":160,"F":0.0039},{"w":181,"F":0.0061},{"w":196,"F":0.0034},{"w":211,"F":0.0025},{"w":232,"F":0.0025},{"w":245,"F":0.0014},{"w":259,"F":0.0023},{"w":288,"F":0.001},{"w":319,"F":0.0012},{"w":349,"F":0.0005},{"w":600,"F":0.0003}],
"s5":[{"w":0,"F":0.06},{"w":4,"F":0.03},{"w":8,"F":0.012},{"w":12,"F":0.005},{"w":18,"F":0.0025},{"w":36,"F":0.0102},{"w":48,"F":0.0043},{"w":64,"F":0.005},{"w":84,"F":0.0025},{"w":115,"F":0.0057},{"w":135,"F":0.0043},{"w":171,"F":0.0023},{"w":191,"F":0.003},{"w":217,"F":0.0018},{"w":268,"F":0.0014},{"w":339,"F":0.0007},{"w":441,"F":0.0005},{"w":600,"F":0.0004}],
"s6":[{"w":0,"F":0.06},{"w":4,"F":0.03},{"w":8,"F":0.012},{"w":12,"F":0.005},{"w":21,"F":0.0022},{"w":38,"F":0.0062},{"w":58,"F":0.0049},{"w":74,"F":0.0049},{"w":87,"F":0.0085},{"w":99,"F":0.0071},{"w":113,"F":0.0053},{"w":125,"F":0.0026},{"w":145,"F":0.0026},{"w":160,"F":0.0035},{"w":176,"F":0.0017},{"w":196,"F":0.0029},{"w":217,"F":0.0014},{"w":268,"F":0.001},{"w":370,"F":0.0005},{"w":600,"F":0.0003}],
"s7":[{"w":0,"F":0.06},{"w":4,"F":0.03},{"w":8,"F":0.012},{"w":12,"F":0.005},{"w":18,"F":0.0022},{"w":35,"F":0.0044},{"w":48,"F":0.0017},{"w":62,"F":0.0026},{"w":76,"F":0.0026},{"w":94,"F":0.0069},{"w":110,"F":0.0053},{"w":125,"F":0.0062},{"w":145,"F":0.0028},{"w":166,"F":0.0026},{"w":186,"F":0.0031},{"w":206,"F":0.0023},{"w":227,"F":0.0023},{"w":268,"F":0.0014},{"w":339,"F":0.001},{"w":441,"F":0.0005},{"w":600,"F":0.0004}],
"s8":[{"w":0,"F":0.06},{"w":4,"F":0.03},{"w":8,"F":0.012},{"w":12,"F":0.005},{"w":18,"F":0.003},{"w":33,"F":0.0056},{"w":48,"F":0.0041},{"w":64,"F":0.0047},{"w":79,"F":0.004},{"w":94,"F":0.0067},{"w":106,"F":0.0086},{"w":125,"F":0.0058},{"w":140,"F":0.0049},{"w":160,"F":0.0029},{"w":176,"F":0.0035},{"w":196,"F":0.0022},{"w":222,"F":0.0008},{"w":237,"F":0.0017},{"w":268,"F":0.0011},{"w":339,"F":0.0006},{"w":600,"F":0.0003}]
},
"concat":[
{"width":366,"height":111.8,"title":{"text":"-R(t)","anchor":"start","frame":"group","dx":-32,"offset":-18,"baseline":"alphabetic"},"resolve":{"axis":{"x":"independent","y":"independent"}},"layer":[
{"data":{"name":"p0"},"mark":"point","encoding":{"x":{"field":"t","type":"quantitative","scale":{"domain":[0,200],"nice":false},"axis":{"orient":"top","values":[20,40,60,80,100,120,140,160,180],"tickSize":-4,"labels":false,"domain":true,"domainWidth":2.5,"title":null}},"y":{"field":"v","type":"quantitative","scale":{"domain":[-0.2,0.4],"nice":false},"axis":{"orient":"left","values":[-0.2,0,0.2,0.4],"labelExpr":"datum.value < 0 ? '-' + format(-datum.value, '.1f') : format(datum.value, '.1f')","tickSize":5,"domainWidth":2.5,"title":null}}}},
{"data":{"name":"p0"},"mark":"circle","encoding":{"x":{"field":"t","type":"quantitative","axis":null},"y":{"field":"v","type":"quantitative","axis":{"orient":"left","values":[-0.1,0.1,0.3],"tickSize":3,"labels":false,"domain":false,"title":null}}}},
{"data":{"name":"f0"},"mark":{"type":"line","color":"#f44a46","strokeWidth":3,"interpolate":"monotone"},"encoding":{"x":{"field":"t","type":"quantitative","axis":null},"y":{"field":"v","type":"quantitative","axis":{"orient":"right","values":[-0.1,0,0.1,0.2,0.3],"tickSize":-4,"labels":false,"domain":false,"title":null}}}}]},
{"width":196,"height":111.8,"title":{"text":"F(ω)","anchor":"end","frame":"group","dx":51,"offset":-18,"baseline":"alphabetic"},"resolve":{"axis":{"x":"independent","y":"independent"}},"layer":[
{"data":{"name":"s0"},"mark":{"type":"area","clip":true},"encoding":{"x":{"field":"w","type":"quantitative","scale":{"domain":[0,600],"nice":false},"axis":{"orient":"top","ticks":false,"labels":false,"domainWidth":2.5,"title":null}},"y":{"field":"F","type":"quantitative","scale":{"domain":[0,0.03],"nice":false},"axis":{"orient":"right","values":[0,0.01,0.02,0.03],"format":".2f","tickSize":5,"labelPadding":6,"domainWidth":2.5,"title":null}}}},
{"data":{"name":"s0"},"mark":{"type":"line","color":"#000","strokeWidth":1,"interpolate":"monotone","clip":true},"encoding":{"x":{"field":"w","type":"quantitative","axis":null},"y":{"field":"F","type":"quantitative","axis":{"orient":"right","values":[0.005,0.015,0.025],"tickSize":3,"labels":false,"domain":false,"title":null}}}},
{"data":{"values":[{"lab":"RT"}]},"mark":"text","encoding":{"text":{"field":"lab"},"x":{"datum":588,"type":"quantitative","axis":null},"y":{"datum":0.0255,"type":"quantitative","axis":{"orient":"left","ticks":false,"labels":false,"domainWidth":2,"title":null}}}}]},
{"width":366,"height":111.8,"resolve":{"axis":{"x":"independent","y":"independent"}},"layer":[
{"data":{"name":"p1"},"mark":"point","encoding":{"x":{"field":"t","type":"quantitative","scale":{"domain":[0,200],"nice":false},"axis":{"orient":"top","values":[20,40,60,80,100,120,140,160,180],"tickSize":-4,"labels":false,"domain":false,"title":null}},"y":{"field":"v","type":"quantitative","scale":{"domain":[-0.2,0.4],"nice":false},"axis":{"orient":"left","values":[-0.2,0,0.2],"labelExpr":"datum.value < 0 ? '-' + format(-datum.value, '.1f') : format(datum.value, '.1f')","tickSize":5,"domainWidth":2.5,"title":null}}}},
{"data":{"name":"p1"},"mark":"circle","encoding":{"x":{"field":"t","type":"quantitative","axis":null},"y":{"field":"v","type":"quantitative","axis":{"orient":"left","values":[-0.1,0.1,0.3],"tickSize":3,"labels":false,"domain":false,"title":null}}}},
{"data":{"name":"f1"},"mark":{"type":"line","color":"#f44a46","strokeWidth":3,"interpolate":"monotone"},"encoding":{"x":{"field":"t","type":"quantitative","axis":null},"y":{"field":"v","type":"quantitative","axis":{"orient":"right","values":[-0.1,0,0.1,0.2,0.3],"tickSize":-4,"labels":false,"domain":false,"title":null}}}}]},
{"width":196,"height":111.8,"resolve":{"axis":{"x":"independent","y":"independent"}},"layer":[
{"data":{"name":"s1"},"mark":{"type":"area","clip":true},"encoding":{"x":{"field":"w","type":"quantitative","scale":{"domain":[0,600],"nice":false},"axis":null},"y":{"field":"F","type":"quantitative","scale":{"domain":[0,0.03],"nice":false},"axis":{"orient":"right","values":[0,0.01,0.02],"format":".2f","tickSize":5,"labelPadding":6,"domainWidth":2.5,"title":null}}}},
{"data":{"name":"s1"},"mark":{"type":"line","color":"#000","strokeWidth":1,"interpolate":"monotone","clip":true},"encoding":{"x":{"field":"w","type":"quantitative","axis":null},"y":{"field":"F","type":"quantitative","axis":{"orient":"right","values":[0.005,0.015,0.025],"tickSize":3,"labels":false,"domain":false,"title":null}}}},
{"data":{"values":[{"lab":"50°C"}]},"mark":"text","encoding":{"text":{"field":"lab"},"x":{"datum":588,"type":"quantitative","axis":null},"y":{"datum":0.0255,"type":"quantitative","axis":{"orient":"left","ticks":false,"labels":false,"domainWidth":2,"title":null}}}}]},
{"width":366,"height":111.8,"resolve":{"axis":{"x":"independent","y":"independent"}},"layer":[
{"data":{"name":"p2"},"mark":"point","encoding":{"x":{"field":"t","type":"quantitative","scale":{"domain":[0,200],"nice":false},"axis":{"orient":"top","values":[20,40,60,80,100,120,140,160,180],"tickSize":-4,"labels":false,"domain":false,"title":null}},"y":{"field":"v","type":"quantitative","scale":{"domain":[-0.2,0.4],"nice":false},"axis":{"orient":"left","values":[-0.2,0,0.2],"labelExpr":"datum.value < 0 ? '-' + format(-datum.value, '.1f') : format(datum.value, '.1f')","tickSize":5,"domainWidth":2.5,"title":null}}}},
{"data":{"name":"p2"},"mark":"circle","encoding":{"x":{"field":"t","type":"quantitative","axis":null},"y":{"field":"v","type":"quantitative","axis":{"orient":"left","values":[-0.1,0.1,0.3],"tickSize":3,"labels":false,"domain":false,"title":null}}}},
{"data":{"name":"f2"},"mark":{"type":"line","color":"#f44a46","strokeWidth":3,"interpolate":"monotone"},"encoding":{"x":{"field":"t","type":"quantitative","axis":null},"y":{"field":"v","type":"quantitative","axis":{"orient":"right","values":[-0.1,0,0.1,0.2,0.3],"tickSize":-4,"labels":false,"domain":false,"title":null}}}}]},
{"width":196,"height":111.8,"resolve":{"axis":{"x":"independent","y":"independent"}},"layer":[
{"data":{"name":"s2"},"mark":{"type":"area","clip":true},"encoding":{"x":{"field":"w","type":"quantitative","scale":{"domain":[0,600],"nice":false},"axis":null},"y":{"field":"F","type":"quantitative","scale":{"domain":[0,0.03],"nice":false},"axis":{"orient":"right","values":[0,0.01,0.02],"format":".2f","tickSize":5,"labelPadding":6,"domainWidth":2.5,"title":null}}}},
{"data":{"name":"s2"},"mark":{"type":"line","color":"#000","strokeWidth":1,"interpolate":"monotone","clip":true},"encoding":{"x":{"field":"w","type":"quantitative","axis":null},"y":{"field":"F","type":"quantitative","axis":{"orient":"right","values":[0.005,0.015,0.025],"tickSize":3,"labels":false,"domain":false,"title":null}}}},
{"data":{"values":[{"lab":"100°C"}]},"mark":"text","encoding":{"text":{"field":"lab"},"x":{"datum":588,"type":"quantitative","axis":null},"y":{"datum":0.0255,"type":"quantitative","axis":{"orient":"left","ticks":false,"labels":false,"domainWidth":2,"title":null}}}}]},
{"width":366,"height":111.8,"resolve":{"axis":{"x":"independent","y":"independent"}},"layer":[
{"data":{"name":"p3"},"mark":"point","encoding":{"x":{"field":"t","type":"quantitative","scale":{"domain":[0,200],"nice":false},"axis":{"orient":"top","values":[20,40,60,80,100,120,140,160,180],"tickSize":-4,"labels":false,"domain":false,"title":null}},"y":{"field":"v","type":"quantitative","scale":{"domain":[-0.2,0.4],"nice":false},"axis":{"orient":"left","values":[-0.2,0,0.2],"labelExpr":"datum.value < 0 ? '-' + format(-datum.value, '.1f') : format(datum.value, '.1f')","tickSize":5,"domainWidth":2.5,"title":null}}}},
{"data":{"name":"p3"},"mark":"circle","encoding":{"x":{"field":"t","type":"quantitative","axis":null},"y":{"field":"v","type":"quantitative","axis":{"orient":"left","values":[-0.1,0.1,0.3],"tickSize":3,"labels":false,"domain":false,"title":null}}}},
{"data":{"name":"f3"},"mark":{"type":"line","color":"#f44a46","strokeWidth":3,"interpolate":"monotone"},"encoding":{"x":{"field":"t","type":"quantitative","axis":null},"y":{"field":"v","type":"quantitative","axis":{"orient":"right","values":[-0.1,0,0.1,0.2,0.3],"tickSize":-4,"labels":false,"domain":false,"title":null}}}}]},
{"width":196,"height":111.8,"resolve":{"axis":{"x":"independent","y":"independent"}},"layer":[
{"data":{"name":"s3"},"mark":{"type":"area","clip":true},"encoding":{"x":{"field":"w","type":"quantitative","scale":{"domain":[0,600],"nice":false},"axis":null},"y":{"field":"F","type":"quantitative","scale":{"domain":[0,0.03],"nice":false},"axis":{"orient":"right","values":[0,0.01,0.02],"format":".2f","tickSize":5,"labelPadding":6,"domainWidth":2.5,"title":null}}}},
{"data":{"name":"s3"},"mark":{"type":"line","color":"#000","strokeWidth":1,"interpolate":"monotone","clip":true},"encoding":{"x":{"field":"w","type":"quantitative","axis":null},"y":{"field":"F","type":"quantitative","axis":{"orient":"right","values":[0.005,0.015,0.025],"tickSize":3,"labels":false,"domain":false,"title":null}}}},
{"data":{"values":[{"lab":"150°C"}]},"mark":"text","encoding":{"text":{"field":"lab"},"x":{"datum":588,"type":"quantitative","axis":null},"y":{"datum":0.0255,"type":"quantitative","axis":{"orient":"left","ticks":false,"labels":false,"domainWidth":2,"title":null}}}}]},
{"width":366,"height":111.8,"resolve":{"axis":{"x":"independent","y":"independent"}},"layer":[
{"data":{"name":"p4"},"mark":"point","encoding":{"x":{"field":"t","type":"quantitative","scale":{"domain":[0,200],"nice":false},"axis":{"orient":"top","values":[20,40,60,80,100,120,140,160,180],"tickSize":-4,"labels":false,"domain":false,"title":null}},"y":{"field":"v","type":"quantitative","scale":{"domain":[-0.2,0.4],"nice":false},"axis":{"orient":"left","values":[-0.2,0,0.2],"labelExpr":"datum.value < 0 ? '-' + format(-datum.value, '.1f') : format(datum.value, '.1f')","tickSize":5,"domainWidth":2.5,"title":null}}}},
{"data":{"name":"p4"},"mark":"circle","encoding":{"x":{"field":"t","type":"quantitative","axis":null},"y":{"field":"v","type":"quantitative","axis":{"orient":"left","values":[-0.1,0.1,0.3],"tickSize":3,"labels":false,"domain":false,"title":null}}}},
{"data":{"name":"f4"},"mark":{"type":"line","color":"#f44a46","strokeWidth":3,"interpolate":"monotone"},"encoding":{"x":{"field":"t","type":"quantitative","axis":null},"y":{"field":"v","type":"quantitative","axis":{"orient":"right","values":[-0.1,0,0.1,0.2,0.3],"tickSize":-4,"labels":false,"domain":false,"title":null}}}}]},
{"width":196,"height":111.8,"resolve":{"axis":{"x":"independent","y":"independent"}},"layer":[
{"data":{"name":"s4"},"mark":{"type":"area","clip":true},"encoding":{"x":{"field":"w","type":"quantitative","scale":{"domain":[0,600],"nice":false},"axis":null},"y":{"field":"F","type":"quantitative","scale":{"domain":[0,0.03],"nice":false},"axis":{"orient":"right","values":[0,0.01,0.02],"format":".2f","tickSize":5,"labelPadding":6,"domainWidth":2.5,"title":null}}}},
{"data":{"name":"s4"},"mark":{"type":"line","color":"#000","strokeWidth":1,"interpolate":"monotone","clip":true},"encoding":{"x":{"field":"w","type":"quantitative","axis":null},"y":{"field":"F","type":"quantitative","axis":{"orient":"right","values":[0.005,0.015,0.025],"tickSize":3,"labels":false,"domain":false,"title":null}}}},
{"data":{"values":[{"lab":"200°C"}]},"mark":"text","encoding":{"text":{"field":"lab"},"x":{"datum":588,"type":"quantitative","axis":null},"y":{"datum":0.0255,"type":"quantitative","axis":{"orient":"left","ticks":false,"labels":false,"domainWidth":2,"title":null}}}}]},
{"width":366,"height":111.8,"resolve":{"axis":{"x":"independent","y":"independent"}},"layer":[
{"data":{"name":"p5"},"mark":"point","encoding":{"x":{"field":"t","type":"quantitative","scale":{"domain":[0,200],"nice":false},"axis":{"orient":"top","values":[20,40,60,80,100,120,140,160,180],"tickSize":-4,"labels":false,"domain":false,"title":null}},"y":{"field":"v","type":"quantitative","scale":{"domain":[-0.2,0.4],"nice":false},"axis":{"orient":"left","values":[-0.2,0,0.2],"labelExpr":"datum.value < 0 ? '-' + format(-datum.value, '.1f') : format(datum.value, '.1f')","tickSize":5,"domainWidth":2.5,"title":null}}}},
{"data":{"name":"p5"},"mark":"circle","encoding":{"x":{"field":"t","type":"quantitative","axis":null},"y":{"field":"v","type":"quantitative","axis":{"orient":"left","values":[-0.1,0.1,0.3],"tickSize":3,"labels":false,"domain":false,"title":null}}}},
{"data":{"name":"f5"},"mark":{"type":"line","color":"#f44a46","strokeWidth":3,"interpolate":"monotone"},"encoding":{"x":{"field":"t","type":"quantitative","axis":null},"y":{"field":"v","type":"quantitative","axis":{"orient":"right","values":[-0.1,0,0.1,0.2,0.3],"tickSize":-4,"labels":false,"domain":false,"title":null}}}}]},
{"width":196,"height":111.8,"resolve":{"axis":{"x":"independent","y":"independent"}},"layer":[
{"data":{"name":"s5"},"mark":{"type":"area","clip":true},"encoding":{"x":{"field":"w","type":"quantitative","scale":{"domain":[0,600],"nice":false},"axis":null},"y":{"field":"F","type":"quantitative","scale":{"domain":[0,0.03],"nice":false},"axis":{"orient":"right","values":[0,0.01,0.02],"format":".2f","tickSize":5,"labelPadding":6,"domainWidth":2.5,"title":null}}}},
{"data":{"name":"s5"},"mark":{"type":"line","color":"#000","strokeWidth":1,"interpolate":"monotone","clip":true},"encoding":{"x":{"field":"w","type":"quantitative","axis":null},"y":{"field":"F","type":"quantitative","axis":{"orient":"right","values":[0.005,0.015,0.025],"tickSize":3,"labels":false,"domain":false,"title":null}}}},
{"data":{"values":[{"lab":"300°C"}]},"mark":"text","encoding":{"text":{"field":"lab"},"x":{"datum":588,"type":"quantitative","axis":null},"y":{"datum":0.0255,"type":"quantitative","axis":{"orient":"left","ticks":false,"labels":false,"domainWidth":2,"title":null}}}}]},
{"width":366,"height":111.8,"resolve":{"axis":{"x":"independent","y":"independent"}},"layer":[
{"data":{"name":"p6"},"mark":"point","encoding":{"x":{"field":"t","type":"quantitative","scale":{"domain":[0,200],"nice":false},"axis":{"orient":"top","values":[20,40,60,80,100,120,140,160,180],"tickSize":-4,"labels":false,"domain":false,"title":null}},"y":{"field":"v","type":"quantitative","scale":{"domain":[-0.2,0.4],"nice":false},"axis":{"orient":"left","values":[-0.2,0,0.2],"labelExpr":"datum.value < 0 ? '-' + format(-datum.value, '.1f') : format(datum.value, '.1f')","tickSize":5,"domainWidth":2.5,"title":null}}}},
{"data":{"name":"p6"},"mark":"circle","encoding":{"x":{"field":"t","type":"quantitative","axis":null},"y":{"field":"v","type":"quantitative","axis":{"orient":"left","values":[-0.1,0.1,0.3],"tickSize":3,"labels":false,"domain":false,"title":null}}}},
{"data":{"name":"f6"},"mark":{"type":"line","color":"#f44a46","strokeWidth":3,"interpolate":"monotone"},"encoding":{"x":{"field":"t","type":"quantitative","axis":null},"y":{"field":"v","type":"quantitative","axis":{"orient":"right","values":[-0.1,0,0.1,0.2,0.3],"tickSize":-4,"labels":false,"domain":false,"title":null}}}}]},
{"width":196,"height":111.8,"resolve":{"axis":{"x":"independent","y":"independent"}},"layer":[
{"data":{"name":"s6"},"mark":{"type":"area","clip":true},"encoding":{"x":{"field":"w","type":"quantitative","scale":{"domain":[0,600],"nice":false},"axis":null},"y":{"field":"F","type":"quantitative","scale":{"domain":[0,0.03],"nice":false},"axis":{"orient":"right","values":[0,0.01,0.02],"format":".2f","tickSize":5,"labelPadding":6,"domainWidth":2.5,"title":null}}}},
{"data":{"name":"s6"},"mark":{"type":"line","color":"#000","strokeWidth":1,"interpolate":"monotone","clip":true},"encoding":{"x":{"field":"w","type":"quantitative","axis":null},"y":{"field":"F","type":"quantitative","axis":{"orient":"right","values":[0.005,0.015,0.025],"tickSize":3,"labels":false,"domain":false,"title":null}}}},
{"data":{"values":[{"lab":"340°C"}]},"mark":"text","encoding":{"text":{"field":"lab"},"x":{"datum":588,"type":"quantitative","axis":null},"y":{"datum":0.0255,"type":"quantitative","axis":{"orient":"left","ticks":false,"labels":false,"domainWidth":2,"title":null}}}}]},
{"width":366,"height":111.8,"resolve":{"axis":{"x":"independent","y":"independent"}},"layer":[
{"data":{"name":"p7"},"mark":"point","encoding":{"x":{"field":"t","type":"quantitative","scale":{"domain":[0,200],"nice":false},"axis":{"orient":"top","values":[20,40,60,80,100,120,140,160,180],"tickSize":-4,"labels":false,"domain":false,"title":null}},"y":{"field":"v","type":"quantitative","scale":{"domain":[-0.2,0.4],"nice":false},"axis":{"orient":"left","values":[-0.2,0,0.2],"labelExpr":"datum.value < 0 ? '-' + format(-datum.value, '.1f') : format(datum.value, '.1f')","tickSize":5,"domainWidth":2.5,"title":null}}}},
{"data":{"name":"p7"},"mark":"circle","encoding":{"x":{"field":"t","type":"quantitative","axis":null},"y":{"field":"v","type":"quantitative","axis":{"orient":"left","values":[-0.1,0.1,0.3],"tickSize":3,"labels":false,"domain":false,"title":null}}}},
{"data":{"name":"f7"},"mark":{"type":"line","color":"#f44a46","strokeWidth":3,"interpolate":"monotone"},"encoding":{"x":{"field":"t","type":"quantitative","axis":null},"y":{"field":"v","type":"quantitative","axis":{"orient":"right","values":[-0.1,0,0.1,0.2,0.3],"tickSize":-4,"labels":false,"domain":false,"title":null}}}}]},
{"width":196,"height":111.8,"resolve":{"axis":{"x":"independent","y":"independent"}},"layer":[
{"data":{"name":"s7"},"mark":{"type":"area","clip":true},"encoding":{"x":{"field":"w","type":"quantitative","scale":{"domain":[0,600],"nice":false},"axis":null},"y":{"field":"F","type":"quantitative","scale":{"domain":[0,0.03],"nice":false},"axis":{"orient":"right","values":[0,0.01,0.02],"format":".2f","tickSize":5,"labelPadding":6,"domainWidth":2.5,"title":null}}}},
{"data":{"name":"s7"},"mark":{"type":"line","color":"#000","strokeWidth":1,"interpolate":"monotone","clip":true},"encoding":{"x":{"field":"w","type":"quantitative","axis":null},"y":{"field":"F","type":"quantitative","axis":{"orient":"right","values":[0.005,0.015,0.025],"tickSize":3,"labels":false,"domain":false,"title":null}}}},
{"data":{"values":[{"lab":"350°C"}]},"mark":"text","encoding":{"text":{"field":"lab"},"x":{"datum":588,"type":"quantitative","axis":null},"y":{"datum":0.0255,"type":"quantitative","axis":{"orient":"left","ticks":false,"labels":false,"domainWidth":2,"title":null}}}}]},
{"width":366,"height":111.8,"resolve":{"axis":{"x":"independent","y":"independent"}},"layer":[
{"data":{"name":"p8"},"mark":"point","encoding":{"x":{"field":"t","type":"quantitative","scale":{"domain":[0,200],"nice":false},"axis":{"orient":"top","values":[20,40,60,80,100,120,140,160,180],"tickSize":-4,"labels":false,"domain":false,"title":null}},"y":{"field":"v","type":"quantitative","scale":{"domain":[-0.2,0.4],"nice":false},"axis":{"orient":"left","values":[-0.2,0,0.2],"labelExpr":"datum.value < 0 ? '-' + format(-datum.value, '.1f') : format(datum.value, '.1f')","tickSize":5,"domainWidth":2.5,"title":null}}}},
{"data":{"name":"p8"},"mark":"circle","encoding":{"x":{"field":"t","type":"quantitative","axis":{"orient":"bottom","values":[0,40,80,120,160],"tickSize":5,"labelPadding":3,"domainWidth":2.5,"title":"t (ns)","titlePadding":14}},"y":{"field":"v","type":"quantitative","axis":{"orient":"left","values":[-0.1,0.1,0.3],"tickSize":3,"labels":false,"domain":false,"title":null}}}},
{"data":{"name":"f8"},"mark":{"type":"line","color":"#f44a46","strokeWidth":3,"interpolate":"monotone"},"encoding":{"x":{"field":"t","type":"quantitative","axis":{"orient":"bottom","values":[20,60,100,140,180,200],"tickSize":3,"labels":false,"domain":false,"title":null}},"y":{"field":"v","type":"quantitative","axis":{"orient":"right","values":[-0.1,0,0.1,0.2,0.3],"tickSize":-4,"labels":false,"domain":false,"title":null}}}}]},
{"width":196,"height":111.8,"resolve":{"axis":{"x":"independent","y":"independent"}},"layer":[
{"data":{"name":"s8"},"mark":{"type":"area","clip":true},"encoding":{"x":{"field":"w","type":"quantitative","scale":{"domain":[0,600],"nice":false},"axis":{"orient":"bottom","values":[0,200,400,600],"tickSize":5,"labelPadding":3,"domainWidth":2.5,"title":"Transition frequeny (Mrad/s)","titlePadding":14,"titleX":134}},"y":{"field":"F","type":"quantitative","scale":{"domain":[0,0.03],"nice":false},"axis":{"orient":"right","values":[0,0.01,0.02],"format":".2f","tickSize":5,"labelPadding":6,"domainWidth":2.5,"title":null}}}},
{"data":{"name":"s8"},"mark":{"type":"line","color":"#000","strokeWidth":1,"interpolate":"monotone","clip":true},"encoding":{"x":{"field":"w","type":"quantitative","axis":{"orient":"bottom","values":[100,300,500],"tickSize":3,"labels":false,"domain":false,"title":null}},"y":{"field":"F","type":"quantitative","axis":{"orient":"right","values":[0.005,0.015,0.025],"tickSize":3,"labels":false,"domain":false,"title":null}}}},
{"data":{"values":[{"lab":"360°C"}]},"mark":"text","encoding":{"text":{"field":"lab"},"x":{"datum":588,"type":"quantitative","axis":null},"y":{"datum":0.0255,"type":"quantitative","axis":{"orient":"left","ticks":false,"labels":false,"domainWidth":2,"title":null}}}}]}
]
}
